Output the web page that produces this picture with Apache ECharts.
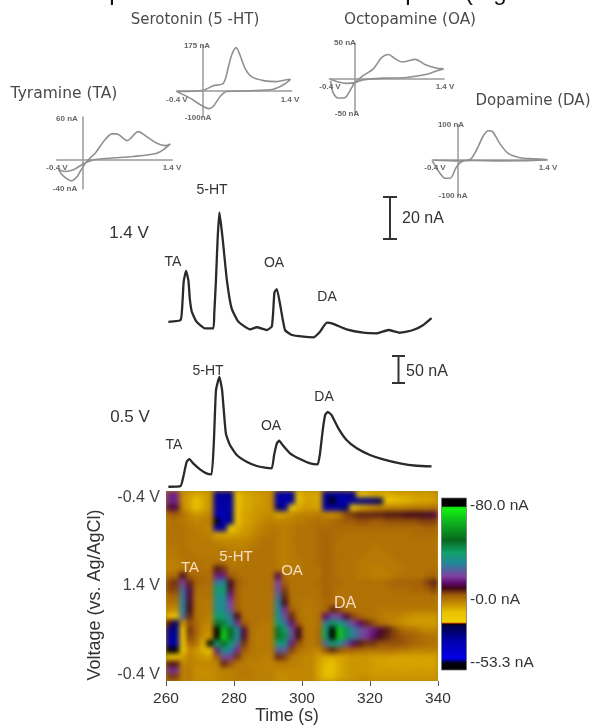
<!DOCTYPE html>
<html>
<head>
<meta charset="utf-8">
<style>
  html, body { margin: 0; padding: 0; background: #fff; }
  #page { position: relative; width: 594px; height: 726px; overflow: hidden; }
  #main { position: absolute; left: 0; top: 0; width: 594px; height: 726px; filter: blur(0.45px); }
  #heatClip { position: absolute; left: 166px; top: 491px; width: 272px; height: 190px; overflow: hidden; background: #b8860f; }
  #heat { width: 272px; height: 190px; filter: blur(2.8px); }
</style>
<script src="https://cdn.jsdelivr.net/npm/echarts@6/dist/echarts.min.js"></script>
</head>
<body>
<div id="page">
  <div id="heatClip"><div id="heat"></div></div>
  <div id="main"></div>
</div>
<script>
// cyclic voltammograms, volts / nA
var taVolts = [-0.37, -0.30, -0.17, -0.08, -0.02, 0.08, 0.20, 0.33, 0.46, 0.53, 0.70, 0.87, 1.00, 1.16, 1.29, 1.37, 1.29, 1.16, 0.79, 0.43, 0.17, 0.03, -0.14, -0.27, -0.37];
var taCurrent = [-13.4, -21.7, -28.6, -22.6, -13.4, -0.5, 9.7, 25.9, 36.5, 36.5, 27.2, 39.7, 32.8, 23.5, 20.3, 22.6, 16.6, 9.7, 5.1, 2.8, 0.5, -4.2, -13.4, -15.7, -13.4];
var htVolts = [-0.40, 0.00, 0.17, 0.33, 0.41, 0.46, 0.53, 0.59, 0.67, 0.77, 0.96, 1.16, 1.32, 1.38, 1.27, 1.11, 0.75, 0.38, 0.28, 0.17, 0.10, -0.03, -0.19, -0.40];
var htCurrent = [-2.5, 1.3, 19, 29, 92, 137, 165, 137, 86, 54, 39, 35, 42, 44, 23, 6, 0, -2.5, -22, -60, -68, -53, -28, -3];
var oaVolts = [-0.38, -0.34, -0.26, -0.15, -0.08, 0.00, 0.13, 0.29, 0.42, 0.53, 0.63, 0.74, 0.95, 1.10, 1.29, 1.39, 1.29, 1.15, 0.81, 0.45, 0.13, 0.00, -0.13, -0.26, -0.38];
var oaCurrent = [-3.4, -20, -27.5, -26.6, -17.9, -5.8, 3.9, 13.5, 29.5, 33.8, 28, 23.2, 27, 19.8, 14.5, 13.5, 11, 6.3, 1.4, 0.5, -1.9, -5.8, -6.8, -4.8, -1];
var daVolts = [-0.38, 0.02, 0.19, 0.29, 0.40, 0.48, 0.54, 0.66, 0.79, 0.97, 1.18, 1.39, 1.18, 0.66, 0.24, 0.09, -0.02, -0.12, -0.20, -0.28, -0.36, -0.40];
var daCurrent = [0, -2, 2, 28, 69, 83, 81, 46, 19, 7, 4, 2, -1, -2, -1, -2, -18.5, -51, -51, -37, -14, -2];

// amperometric traces
var time14 = [260.7, 264.3, 264.8, 265.2, 265.9, 266.6, 267.0, 267.6, 269.0, 271.5, 273.9, 274.2, 274.7, 275.2, 275.7, 276.2, 276.7, 277.9, 279.3, 281.3, 284.7, 286.7, 289.6, 291.1, 291.5, 291.9, 292.6, 293.5, 295.0, 297.0, 300.4, 303.3, 305.3, 307.3, 309.2, 313.1, 318.0, 322.0, 325.4, 328.8, 332.7, 335.7, 338.1];
var current14 = [3.9, 4.8, 12, 23, 28.2, 23.5, 15, 8.7, 3.9, 0.8, 0.8, 8, 24, 44, 56, 50, 42.9, 23.8, 10.3, 3.9, 0.3, 1.3, 0, 1.6, 8, 18, 19.5, 12.7, 0, -2.4, -3.2, -3.5, -0.8, 3.5, 2.9, 0.3, -1.3, -1.6, 0, -1.3, 0, 2.4, 5.6];
var time05 = [260.7, 264.3, 265.1, 266.1, 266.9, 268.0, 270.0, 271.9, 273.4, 274.1, 274.7, 275.7, 276.5, 277.6, 278.8, 280.8, 283.7, 286.7, 289.1, 291.1, 291.8, 292.6, 293.3, 294.3, 296.5, 299.4, 302.4, 304.6, 305.3, 306.1, 306.8, 307.6, 308.7, 310.7, 313.1, 316.1, 320.0, 323.9, 328.8, 333.7, 338.1];
var current05 = [0.5, 1.8, 18.7, 45.8, 50.6, 42.8, 32, 24.8, 23, 85, 175, 199, 175, 97, 76, 58, 45.8, 38, 35, 33.8, 58, 79, 83.7, 76, 61, 50.6, 42.8, 41, 61, 103, 130, 136, 130, 106, 85, 70, 58, 50, 42.8, 38.5, 37.4];

// color plot, nA, rows run from the top of the plot down
var colorRows = [
  [17,17,-3,-5,-7,-6,-4,-30,-32,-30,-12,-7,-6,-5,-4,-3,-32,-34,-32,-10,-6,-6,-7,-30,-32,-32,-32,-30,-14,-10,-8,-8,-8,-7,-6,-6,-5,-5,-5,-4],
  [17,17,-3,-6,-11,-7,-4,-32,-34,-32,-12,-7,-6,-5,-4,-3,-34,-36,-32,-10,-6,-6,-7,-32,-56,-36,-34,-32,-30,-30,-28,-24,-14,-10,-9,-8,-7,-6,-6,-5],
  [12,12,-2,-6,-11,-7,-4,-32,-36,-32,-12,-7,-6,-4,-4,-3,-26,-32,-16,-7,-5,-5,-6,-32,-36,-30,-28,-14,-7,-5,-3,-2,-2,-1,-1,-1,0,0,0,1],
  [3,4,1,-2,-4,-3,-2,-34,-38,-30,-11,-6,-5,-4,-3,-2,-6,-5,-3,-2,-1,-1,0,-2,-3,-1,5,7,8,8,8,8,9,9,9,10,10,10,11,12],
  [1,1,0,-1,-2,-1,-1,-54,-40,-28,-10,-6,-5,-3,-2,-1,-2,-1,-1,0,0,1,1,1,2,3,4,4,5,5,4,4,5,5,5,5,5,6,6,6],
  [1,1,1,0,-1,-1,-2,-34,-30,-16,-8,-5,-4,-2,-1,0,0,-1,0,1,1,1,2,2,2,2,2,2,2,2,2,2,2,2,2,2,2,2,3,3],
  [1,1,1,0,0,-1,-1,-6,-6,-6,-5,-4,-3,-1,0,1,0,-1,0,1,1,1,2,3,2,2,1,1,1,1,1,1,1,1,1,1,2,2,2,2],
  [1,1,1,0,0,0,0,-1,-2,-2,-2,-2,-1,0,1,1,0,-1,0,1,1,1,2,3,2,1,1,1,1,1,1,1,1,1,1,1,1,1,1,1],
  [0,0,1,0,0,0,0,0,0,-1,-1,-1,0,1,1,1,0,-1,0,1,1,1,2,3,2,1,1,1,1,1,0,0,1,1,1,1,1,1,1,1],
  [0,0,1,1,0,0,0,0,0,0,0,0,1,1,1,1,0,-1,0,1,1,1,2,3,2,1,1,1,1,0,0,0,0,1,1,1,1,1,1,1],
  [-1,-1,0,1,1,1,0,1,1,0,0,1,1,1,1,1,0,-1,0,0,1,1,2,3,2,1,1,1,0,0,0,0,0,0,1,1,1,1,1,1],
  [-1,-1,0,1,1,1,1,9,7,1,1,1,1,1,1,1,0,-1,0,0,1,1,1,3,2,1,1,1,0,0,-1,-1,0,0,0,1,1,1,1,2],
  [2,2,10,3,2,2,1,16,16,4,2,1,1,1,1,1,12,1,1,1,1,1,1,3,2,1,1,1,0,0,-1,-1,-1,0,1,1,1,1,2,3],
  [6,7,20,8,3,2,2,28,30,10,4,2,1,1,1,1,20,4,1,1,1,1,2,3,2,2,1,1,1,1,1,1,2,3,3,3,3,4,6,8],
  [6,6,26,12,2,1,1,36,40,12,3,1,1,1,1,1,22,6,1,1,1,1,1,3,2,1,1,1,1,1,1,1,1,2,2,2,3,3,4,6],
  [3,3,28,12,1,1,1,34,34,16,3,1,1,1,1,1,26,8,1,1,1,1,1,3,2,1,1,1,1,1,1,1,1,1,1,1,1,1,1,2],
  [1,1,30,11,1,0,0,32,32,20,3,1,1,1,1,1,30,10,1,1,0,0,1,2,2,1,1,1,1,1,1,1,1,1,1,1,1,1,1,1],
  [-2,-3,30,10,1,0,0,34,34,22,4,1,1,1,1,1,32,18,4,1,0,0,1,2,8,6,1,1,1,1,1,0,0,0,0,0,0,0,0,0],
  [-10,-11,26,8,1,0,-1,38,38,28,10,1,1,1,1,1,34,22,8,1,0,0,1,14,22,20,12,6,3,1,1,0,-1,-1,-2,-3,-4,-4,-4,-4],
  [-20,-26,-4,5,2,-1,-2,48,46,34,18,4,1,1,0,0,38,28,15,4,0,0,1,28,42,36,28,20,14,8,5,1,0,-2,-3,-4,-5,-5,-5,-5],
  [-30,-30,-14,7,3,-2,-3,84,66,50,32,12,1,0,0,0,48,40,22,10,1,0,2,40,84,68,42,30,24,20,16,12,9,6,3,1,1,-1,-2,-2],
  [-32,-32,-14,6,2,-3,-5,84,72,50,32,12,1,0,0,0,52,44,24,10,1,0,2,40,84,68,42,30,24,19,14,10,8,6,5,4,3,2,1,1],
  [-34,-34,-14,3,1,-8,-56,40,50,40,26,7,1,0,0,0,38,34,16,5,1,0,2,26,40,32,24,14,9,7,7,5,5,5,5,4,3,2,1,1],
  [-56,-56,-16,-2,-4,-8,-11,16,34,30,18,4,1,0,0,0,24,24,6,1,0,-1,-2,5,8,5,3,3,2,1,1,1,1,1,0,0,-1,-1,-1,-1],
  [-13,-14,-5,-1,-3,-4,-5,4,22,20,7,1,0,0,-1,-1,8,6,0,-1,-2,-2,-5,-7,-7,-6,-5,-4,-4,-4,-5,-5,-5,-6,-6,-6,-6,-6,-6,-6],
  [9,9,-2,-1,-2,-2,-2,-2,8,5,0,0,-1,-1,-1,-1,-1,0,-1,-1,-2,-2,-6,-9,-10,-7,-5,-4,-4,-4,-5,-6,-6,-6,-6,-6,-6,-6,-6,-6],
  [18,18,-1,0,-3,-3,-3,-2,-1,-1,0,0,0,-1,-1,-1,-2,-2,-2,-2,-2,-2,-6,-10,-10,-7,-5,-4,-4,-4,-5,-5,-5,-5,-5,-5,-5,-5,-5,-5],
  [6,6,-1,0,-3,-3,-3,-2,-1,-1,0,0,0,-1,-1,-1,-3,-3,-2,-2,-2,-2,-6,-9,-9,-6,-5,-4,-3,-3,-4,-4,-4,-4,-4,-4,-4,-4,-4,-4]
];

var timeTicks = [260, 280, 300, 320, 340];
var voltageTicks = ['-0.4 V', '1.4 V', '-0.4 V'];
var barTicks = ['-80.0 nA', '-0.0 nA', '--53.3 nA'];
var cvTicks = ['-0.4 V', '1.4 V'];

// false color scale: [nA, color]
var scaleMin = -58.8, scaleMax = 85.7;
var colorStops = [
  [-58.8, '#000000'], [-53, '#000008'], [-48.7, '#0000e8'], [-33.6, '#0000a8'], [-22, '#00004a'], [-20.5, '#000020'],
  [-19.7, '#801000'], [-18.5, '#f0d000'], [-10, '#e8c000'], [-3.4, '#c89000'], [4.2, '#a05c08'], [10, '#400818'],
  [14.3, '#600a70'], [20, '#8040a0'], [31, '#208898'], [40, '#10a068'], [50, '#086820'], [64.7, '#10b020'],
  [75.6, '#10f010'], [77.7, '#10e010'], [78.5, '#000000'], [85.7, '#000000']
];

function buildPalette() {
  var out = [];
  for (var v = scaleMin; v <= scaleMax; v += 0.5) {
    var i = 0;
    while (i < colorStops.length - 2 && v > colorStops[i + 1][0]) i++;
    var a = colorStops[i], b = colorStops[i + 1];
    var t = Math.max(0, Math.min(1, (v - a[0]) / (b[0] - a[0])));
    out.push(echarts.color.lerp(t, [a[1], b[1]]));
  }
  return out;
}
var palette = buildPalette();

function zip(a, b) {
  return a.map(function (v, i) { return [v, b[i]]; });
}

// the color plot sits in its own softened canvas
var heatData = [];
colorRows.forEach(function (row, r) {
  row.forEach(function (v, c) { heatData.push([c, r, v]); });
});
var heatChart = echarts.init(document.getElementById('heat'));
heatChart.setOption({
  animation: false,
  grid: { left: 0, right: 0, top: 0, bottom: 0 },
  xAxis: { type: 'category', show: false, data: colorRows[0].map(function (v, i) { return i; }) },
  yAxis: { type: 'category', show: false, inverse: true, data: colorRows.map(function (v, i) { return i; }) },
  visualMap: { show: false, min: scaleMin, max: scaleMax, inRange: { color: palette } },
  series: [{ type: 'heatmap', data: heatData, progressive: 0 }]
});

function cvAxes(gridIndex, yMin, yMax) {
  return {
    x: {
      type: 'value', gridIndex: gridIndex, min: -0.4, max: 1.4,
      axisLine: { onZero: true, lineStyle: { color: '#9a9a9a', width: 1.5 } },
      axisTick: { show: false }, splitLine: { show: false }, axisLabel: { show: false }
    },
    y: {
      type: 'value', gridIndex: gridIndex, min: yMin, max: yMax,
      axisLine: { show: true, onZero: true, lineStyle: { color: '#9a9a9a', width: 1.5 } },
      axisTick: { show: false }, splitLine: { show: false }, axisLabel: { show: false }
    }
  };
}

function hiddenX(gridIndex) {
  return { type: 'value', gridIndex: gridIndex, min: 260, max: 340, show: false, splitLine: { show: false } };
}
function hiddenY(gridIndex, yMin, yMax) {
  return { type: 'value', gridIndex: gridIndex, min: yMin, max: yMax, show: false, splitLine: { show: false } };
}

function cvSeries(index, volts, current) {
  return {
    type: 'line', xAxisIndex: index, yAxisIndex: index, data: zip(volts, current), symbol: 'none',
    smooth: 0.3, lineStyle: { color: '#909090', width: 1.6 }
  };
}
function traceSeries(index, t, current) {
  return {
    type: 'line', xAxisIndex: index, yAxisIndex: index, data: zip(t, current), symbol: 'none',
    smooth: 0.15, lineStyle: { color: '#2a2a2a', width: 2.3 }
  };
}

function label(text, x, y, size, color, extra) {
  var style = {
    text: text, x: x, y: y, align: 'center', verticalAlign: 'middle',
    fontFamily: 'Liberation Sans', fontSize: size, fill: color
  };
  for (var k in extra) style[k] = extra[k];
  return { type: 'text', style: style, z: 50 };
}
function wideLabel(text, x, y, size) {
  return label(text, x, y, size, '#4a4a4a', { fontFamily: 'DejaVu Sans' });
}
function smallLabel(text, x, y) {
  return label(text, x, y, 8, '#666', { fontWeight: 'bold' });
}
function scaleBar(x, y1, y2, half) {
  var s = { stroke: '#333', lineWidth: 2 };
  return [
    { type: 'line', shape: { x1: x, y1: y1, x2: x, y2: y2 }, style: s },
    { type: 'line', shape: { x1: x - half, y1: y1, x2: x + half, y2: y1 }, style: s },
    { type: 'line', shape: { x1: x - half, y1: y2, x2: x + half, y2: y2 }, style: s }
  ];
}
function colorBar() {
  var range = scaleMax - scaleMin;
  return {
    type: 'rect', shape: { x: 441.5, y: 498, width: 25, height: 172 },
    style: {
      stroke: '#777', lineWidth: 0.8,
      fill: new echarts.graphic.LinearGradient(0, 0, 0, 1, colorStops.map(function (s) {
        return { offset: (scaleMax - s[0]) / range, color: s[1] };
      }).reverse())
    }
  };
}

var ta = cvAxes(0, -40, 60), ht = cvAxes(1, -100, 175), oa = cvAxes(2, -50, 50), da = cvAxes(3, -100, 100);

var voltageTitle = label('Voltage (vs. Ag/AgCl)', 0, 0, 18, '#333');
voltageTitle.x = 95;
voltageTitle.y = 595;
voltageTitle.rotation = Math.PI / 2;

var graphics = [
  label('p', 116, 5, 24, '#111', { verticalAlign: 'bottom' }),
  label('p', 412, 5, 24, '#111', { verticalAlign: 'bottom' }),
  label('(', 469, 5, 24, '#111', { verticalAlign: 'bottom' }),
  label('g', 500, 5, 24, '#111', { verticalAlign: 'bottom' }),

  wideLabel('Serotonin (5 -HT)', 195, 20, 15),
  wideLabel('Octopamine (OA)', 410, 20, 15.3),
  wideLabel('Tyramine (TA)', 64, 94, 15.5),
  wideLabel('Dopamine (DA)', 533, 101, 15),

  smallLabel('60 nA', 67, 119), smallLabel('-40 nA', 65, 189),
  smallLabel(cvTicks[0], 57, 168), smallLabel(cvTicks[1], 172, 168),
  smallLabel('175 nA', 197, 46), smallLabel('-100nA', 198, 118),
  smallLabel(cvTicks[0], 177, 100), smallLabel(cvTicks[1], 290, 100),
  smallLabel('50 nA', 345, 43), smallLabel('-50 nA', 347, 114),
  smallLabel(cvTicks[0], 330, 87), smallLabel(cvTicks[1], 445, 87),
  smallLabel('100 nA', 451, 125), smallLabel('-100 nA', 453, 196),
  smallLabel(cvTicks[0], 435, 168), smallLabel(cvTicks[1], 548, 168),

  label('1.4 V', 129, 233, 17, '#333'),
  label('TA', 173, 262, 14, '#333'),
  label('5-HT', 212, 190, 14, '#333'),
  label('OA', 274, 263, 14, '#333'),
  label('DA', 327, 297, 14, '#333'),
  label('20 nA', 423, 219, 16, '#333'),

  label('0.5 V', 130, 417, 17, '#333'),
  label('TA', 174, 445, 14, '#333'),
  label('5-HT', 208, 371, 14, '#333'),
  label('OA', 271, 426, 14, '#333'),
  label('DA', 324, 397, 14, '#333'),
  label('50 nA', 427, 372, 16, '#333'),

  label('TA', 190, 568, 15, '#f6dcc4'),
  label('5-HT', 236, 557, 15, '#f6dcc4'),
  label('OA', 292, 571, 15, '#f6dcc4'),
  label('DA', 345, 604, 16, '#f6dcc4'),

  colorBar(),
  label(barTicks[0], 470, 506, 15.5, '#333', { align: 'left' }),
  label(barTicks[1], 470, 600, 15.5, '#333', { align: 'left' }),
  label(barTicks[2], 470, 663, 15.5, '#333', { align: 'left' }),

  voltageTitle,
  label('Time (s)', 287, 716, 17.5, '#333')
].concat(scaleBar(390, 197, 239, 7), scaleBar(398.5, 356, 383, 6.5));

var chart = echarts.init(document.getElementById('main'));
chart.setOption({
  animation: false,
  grid: [
    { left: 56.7, width: 115.6, top: 117, height: 72 },
    { left: 176.7, width: 115, top: 45, height: 72 },
    { left: 329.3, width: 114.7, top: 43, height: 71 },
    { left: 432.3, width: 115, top: 124.7, height: 71 },
    { left: 166, width: 272, top: 190, height: 152.6 },
    { left: 166, width: 272, top: 360, height: 129.8 },
    { left: 166, width: 272, top: 491, height: 190 }
  ],
  xAxis: [ta.x, ht.x, oa.x, da.x, hiddenX(4), hiddenX(5), {
    type: 'value', gridIndex: 6, min: timeTicks[0], max: timeTicks[timeTicks.length - 1], interval: 20,
    axisLine: { show: false, onZero: false }, splitLine: { show: false },
    axisTick: { show: true, length: 5, lineStyle: { color: '#555' } },
    axisLabel: { margin: 10, fontSize: 15.5, color: '#333', fontFamily: 'Liberation Sans' }
  }],
  yAxis: [ta.y, ht.y, oa.y, da.y, hiddenY(4, -6, 66.67), hiddenY(5, -5, 229.7), {
    type: 'value', gridIndex: 6, min: 0, max: 3.6, inverse: true,
    axisLine: { show: false, onZero: false }, axisTick: { show: false }, splitLine: { show: false },
    axisLabel: {
      customValues: [0.13, 1.8, 3.47], margin: 6, fontSize: 16, color: '#444', fontFamily: 'Liberation Sans',
      formatter: function (v) { return voltageTicks[v < 1 ? 0 : (v < 3 ? 1 : 2)]; }
    }
  }],
  series: [
    cvSeries(0, taVolts, taCurrent),
    cvSeries(1, htVolts, htCurrent),
    cvSeries(2, oaVolts, oaCurrent),
    cvSeries(3, daVolts, daCurrent),
    traceSeries(4, time14, current14),
    traceSeries(5, time05, current05)
  ],
  graphic: { elements: graphics }
});
</script>
</body>
</html>
